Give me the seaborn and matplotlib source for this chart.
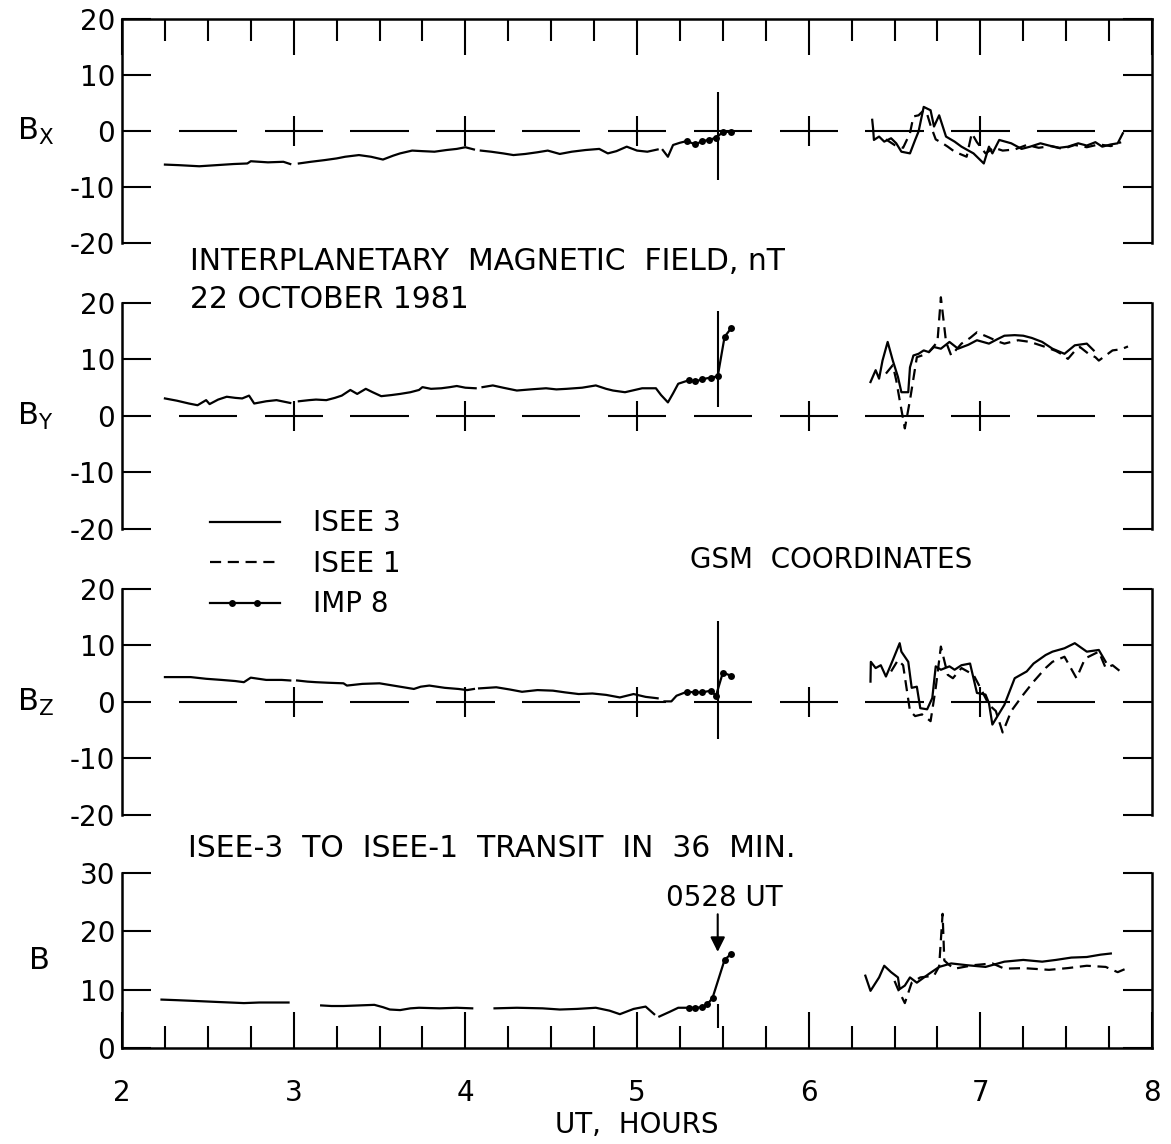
import numpy as np
import pandas as pd
import matplotlib
matplotlib.use('Agg')
import matplotlib.pyplot as plt
import seaborn as sns
from matplotlib.lines import Line2D
from matplotlib.legend_handler import HandlerLine2D, HandlerTuple
from matplotlib.ticker import MultipleLocator

nan = np.nan

# ---- data (UT hours, nT); nan marks a gap in a trace ----
# B_X
bx_isee3_t = [2.25, 2.33, 2.45, 2.55, 2.65, 2.73, 2.75, 2.85, 2.94, 2.98, nan,
              3.03, 3.10, 3.18, 3.25, 3.30, 3.38, 3.45, 3.52, 3.58, 3.62, 3.69, 3.75, 3.82, 3.89, 3.95, 4.00, 4.05, nan,
              4.09, 4.15, 4.22, 4.28, 4.35, 4.42, 4.48, 4.55, 4.62, 4.70, 4.78, 4.83, 4.88, 4.94, 5.00, 5.06, 5.12, nan,
              5.15, 5.18, 5.21, 5.25, 5.29, nan,
              6.37, 6.375, 6.38, 6.41, 6.44, 6.48, 6.51, 6.54, 6.59, 6.62, 6.64, 6.67, 6.71, 6.73, 6.76, 6.80, 6.85,
              6.89, 6.96, 7.02, 7.05, 7.07, 7.11, 7.18, 7.24, 7.29, 7.35, 7.40, 7.46, 7.51, 7.57, 7.62, 7.67, 7.71,
              7.76, 7.80, 7.83]
bx_isee3_v = [-6.0, -6.1, -6.3, -6.1, -5.9, -5.8, -5.4, -5.6, -5.5, -5.9, nan,
              -5.8, -5.5, -5.2, -4.9, -4.6, -4.3, -4.6, -5.1, -4.4, -4.0, -3.5, -3.6, -3.7, -3.4, -3.2, -2.9, -3.3, nan,
              -3.5, -3.7, -4.0, -4.3, -4.1, -3.8, -3.5, -4.1, -3.7, -3.4, -3.2, -4.0, -3.6, -2.8, -3.5, -3.7, -3.3, nan,
              -3.4, -4.6, -2.5, -2.1, -1.8, nan,
              2.0, 0.5, -1.6, -1.0, -1.9, -1.3, -2.2, -3.7, -4.0, -1.6, -0.1, 4.3, 3.7, 0.8, 2.8, -1.0, -1.9,
              -2.8, -4.0, -5.8, -2.8, -4.0, -1.6, -2.2, -3.2, -2.8, -2.2, -2.6, -3.0, -2.8, -2.2, -2.6, -2.0, -2.8,
              -2.4, -2.2, -0.4]
bx_isee1_t = [6.45, 6.50, 6.55, 6.59, 6.61, 6.64, 6.67, 6.69, 6.71, 6.74, 6.78, 6.81, 6.85, 6.92, 6.95, 6.98,
              7.03, 7.08, 7.13, 7.20, 7.27, 7.34, 7.41, 7.48, 7.55, 7.62, 7.69, 7.76, 7.82]
bx_isee1_v = [-1.5, -2.5, -3.0, -0.4, 2.6, 2.8, 3.7, 3.0, 1.0, -1.5, -2.2, -2.8, -3.7, -4.6, -0.4, -2.0,
              -4.0, -3.0, -3.5, -3.3, -2.5, -3.0, -2.7, -3.2, -2.5, -2.9, -2.4, -2.7, -2.0]
bx_imp8_t = [5.29, 5.34, 5.38, 5.42, 5.46, 5.50, 5.55]
bx_imp8_v = [-1.8, -2.4, -1.8, -1.6, -1.2, -0.2, -0.1]

# B_Y
by_isee3_t = [2.25, 2.32, 2.39, 2.44, 2.49, 2.51, 2.56, 2.61, 2.66, 2.70, 2.74, 2.77, 2.84, 2.90, 2.98, nan,
              3.03, 3.09, 3.13, 3.19, 3.24, 3.28, 3.33, 3.37, 3.42, 3.46, 3.51, 3.57, 3.62, 3.68, 3.73, 3.75, 3.80,
              3.86, 3.91, 3.95, 4.00, 4.06, nan,
              4.10, 4.16, 4.22, 4.30, 4.38, 4.47, 4.53, 4.59, 4.68, 4.76, 4.82, 4.86, 4.93, 5.03, 5.11, 5.14, 5.18,
              5.21, 5.24, 5.30, nan,
              6.36, 6.39, 6.41, 6.43, 6.46, 6.49, 6.52, 6.54, 6.58, 6.59, 6.61, 6.64, 6.67, 6.70, 6.73, 6.77, 6.82,
              6.87, 6.93, 6.98, 7.05, 7.10, 7.14, 7.20, 7.25, 7.30, 7.36, 7.42, 7.49, 7.55, 7.62, 7.66]
by_isee3_v = [3.1, 2.7, 2.2, 1.9, 2.8, 2.1, 2.9, 3.4, 3.2, 3.1, 3.6, 2.2, 2.6, 2.8, 2.3, nan,
              2.6, 2.8, 2.9, 2.8, 3.2, 3.6, 4.6, 3.9, 4.8, 4.2, 3.5, 3.7, 3.9, 4.2, 4.6, 5.1, 4.8,
              4.9, 5.1, 5.3, 5.0, 4.9, nan,
              5.1, 5.4, 5.0, 4.5, 4.7, 4.9, 4.7, 4.8, 5.0, 5.4, 4.8, 4.5, 4.2, 4.9, 4.9, 3.7, 2.4,
              4.0, 5.7, 6.3, nan,
              6.0, 8.1, 6.6, 9.8, 13.1, 9.8, 6.9, 4.2, 4.2, 8.6, 10.7, 11.0, 11.6, 11.3, 12.2, 11.9, 13.1,
              11.9, 12.6, 13.4, 12.8, 13.6, 14.2, 14.3, 14.2, 13.8, 13.1, 11.9, 11.0, 12.5, 12.8, 11.6]
by_isee1_t = [6.45, 6.49, 6.51, 6.53, 6.56, 6.59, 6.63, 6.67, 6.70, 6.75, 6.77, 6.80, 6.83, 6.89, 6.94, 6.98,
              7.05, 7.10, 7.14, 7.22, 7.29, 7.38, 7.44, 7.47, 7.51, 7.55, 7.58, 7.63, 7.67, 7.69, 7.73, 7.77,
              7.82, 7.86]
by_isee1_v = [7.5, 9.0, 6.3, 2.8, -2.2, 2.8, 10.4, 10.8, 11.3, 13.1, 21.0, 13.1, 10.7, 12.8, 13.8, 14.8,
              13.9, 13.2, 12.8, 13.4, 13.1, 12.2, 11.5, 11.0, 10.1, 11.5, 12.2, 11.0, 10.4, 9.8, 10.7, 11.6,
              11.8, 12.3]
by_imp8_t = [5.30, 5.34, 5.38, 5.43, 5.47, 5.51, 5.55]
by_imp8_v = [6.3, 6.1, 6.5, 6.8, 7.0, 14.0, 15.6]

# B_Z
bz_isee3_t = [2.25, 2.33, 2.40, 2.49, 2.58, 2.66, 2.71, 2.75, 2.84, 2.93, 2.98, nan,
              3.02, 3.08, 3.13, 3.20, 3.29, 3.31, 3.40, 3.50, 3.62, 3.70, 3.74, 3.79, 3.88, 3.96, 4.01, 4.05, nan,
              4.08, 4.18, 4.26, 4.33, 4.42, 4.51, 4.58, 4.66, 4.74, 4.82, 4.90, 4.98, 5.05, 5.12, nan,
              5.16, 5.20, 5.23, 5.29, nan,
              6.36, 6.362, 6.39, 6.42, 6.45, 6.49, 6.53, 6.54, 6.58, 6.60, 6.63, 6.65, 6.69, 6.72, 6.74, 6.77,
              6.82, 6.85, 6.89, 6.94, 6.98, 7.03, 7.05, 7.07, 7.14, 7.20, 7.27, 7.31, 7.38, 7.42, 7.49, 7.55,
              7.62, 7.69, 7.73]
bz_isee3_v = [4.4, 4.4, 4.4, 4.1, 3.9, 3.7, 3.5, 4.3, 3.9, 3.9, 3.8, nan,
              3.8, 3.6, 3.5, 3.4, 3.3, 2.9, 3.2, 3.3, 2.7, 2.3, 2.7, 2.9, 2.5, 2.3, 2.1, 2.3, nan,
              2.4, 2.6, 2.2, 1.8, 2.1, 2.0, 1.7, 1.4, 1.5, 1.25, 0.8, 1.4, 0.9, 0.65, nan,
              0.1, 0.1, 1.1, 1.8, nan,
              3.6, 7.1, 6.0, 6.5, 4.5, 7.4, 10.4, 8.9, 7.1, 2.5, 2.7, -1.1, -1.3, 0.7, 6.3, 5.7,
              6.3, 5.7, 6.5, 6.8, 1.6, 1.3, -0.2, -4.0, -0.5, 4.2, 5.4, 6.8, 8.3, 8.9, 9.5, 10.4,
              8.9, 9.2, 7.1]
bz_isee1_t = [6.48, 6.52, 6.55, 6.59, 6.62, 6.66, 6.71, 6.74, 6.77, 6.81, 6.84, 6.89, 6.96, 7.00, 7.05, 7.09,
              7.13, 7.18, 7.25, 7.31, 7.38, 7.42, 7.49, 7.56, 7.61, 7.69, 7.73, 7.77, 7.84]
bz_isee1_v = [5.4, 7.4, 6.5, -1.6, -2.5, -2.2, -3.4, 2.5, 9.8, 4.8, 4.2, 6.0, 4.8, 2.5, -0.5, -1.6,
              -5.4, -1.6, 1.3, 3.6, 6.0, 7.1, 8.0, 4.2, 7.7, 8.9, 6.0, 6.5, 4.8]
bz_imp8_t = [5.29, 5.34, 5.38, 5.43, 5.46, 5.50, 5.55]
bz_imp8_v = [1.8, 1.7, 1.7, 2.0, 1.1, 5.2, 4.6]

# |B|
b_isee3_t = [2.23, 2.32, 2.40, 2.55, 2.71, 2.80, 2.97, nan,
             3.16, 3.22, 3.29, 3.38, 3.47, 3.52, 3.56, 3.62, 3.68, 3.73, 3.85, 3.95, 4.04, nan,
             4.17, 4.30, 4.45, 4.55, 4.65, 4.76, 4.84, 4.90, 4.98, 5.05, 5.10, nan,
             5.13, 5.19, 5.24, 5.30, nan,
             6.33, 6.36, 6.41, 6.44, 6.48, 6.52, 6.53, 6.56, 6.59, 6.63, 6.70, 6.76, 6.83, 6.92, 7.03, 7.14,
             7.25, 7.36, 7.44, 7.53, 7.62, 7.70, 7.76]
b_isee3_v = [8.3, 8.2, 8.1, 7.9, 7.7, 7.8, 7.8, nan,
             7.3, 7.2, 7.2, 7.3, 7.4, 7.0, 6.6, 6.5, 6.8, 6.9, 6.8, 6.9, 6.8, nan,
             6.8, 6.9, 6.8, 6.6, 6.7, 6.9, 6.4, 5.8, 6.7, 7.1, 5.8, nan,
             5.4, 6.2, 6.9, 6.9, nan,
             12.4, 9.8, 12.1, 14.1, 13.0, 12.1, 10.1, 10.7, 12.1, 11.2, 12.7, 13.9, 14.5, 14.2, 13.9, 14.8,
             15.1, 14.8, 15.1, 15.5, 15.6, 16.0, 16.2]
b_isee1_t = [6.50, 6.52, 6.56, 6.60, 6.65, 6.73, 6.76, 6.78, 6.79, 6.82, 6.85, 6.96, 7.07, 7.14, 7.25,
             7.40, 7.51, 7.62, 7.73, 7.80, 7.84]
b_isee1_v = [11.5, 10.1, 7.7, 11.2, 12.1, 12.4, 14.0, 23.0, 15.0, 14.2, 13.6, 14.2, 14.5, 13.6, 13.7,
             13.4, 13.7, 14.1, 13.9, 13.0, 13.5]
b_imp8_t = [5.30, 5.34, 5.38, 5.41, 5.44, 5.51, 5.55]
b_imp8_v = [6.9, 6.9, 7.0, 7.5, 8.6, 15.1, 16.2]

panel_labels = [r'B$_\mathregular{X}$', r'B$_\mathregular{Y}$', r'B$_\mathregular{Z}$', 'B']
component_ticks = [-20, -10, 0, 10, 20]
magnitude_ticks = [0, 10, 20, 30]
hour_ticks = [2, 3, 4, 5, 6, 7, 8]
shock_time = 5.47          # 0528 UT
shock_spans = [(-8.7, 7.0), (1.5, 18.6), (-6.6, 14.3), (3.5, 7.5)]

FS = 20       # tick labels
FT = 21.5     # lettering
plt.rcParams['font.family'] = ['DejaVu Sans']
plt.rcParams['mathtext.default'] = 'regular'
plt.rcParams['axes.unicode_minus'] = False


def trace(t, v):
    d = pd.DataFrame({'ut': t, 'nT': v})
    d['seg'] = d['nT'].isna().cumsum()
    return d.dropna()


fig = plt.figure(figsize=(11.71, 11.44), dpi=100)
L, W = 0.1042, 0.8796
rects = [[L, 0.7876, W, 0.1958], [L, 0.5376, W, 0.1976],
         [L, 0.2876, W, 0.1976], [L, 0.0839, W, 0.1530]]
axes = [fig.add_axes(r) for r in rects]

series = [(bx_isee3_t, bx_isee3_v, bx_isee1_t, bx_isee1_v, bx_imp8_t, bx_imp8_v),
          (by_isee3_t, by_isee3_v, by_isee1_t, by_isee1_v, by_imp8_t, by_imp8_v),
          (bz_isee3_t, bz_isee3_v, bz_isee1_t, bz_isee1_v, bz_imp8_t, bz_imp8_v),
          (b_isee3_t, b_isee3_v, b_isee1_t, b_isee1_v, b_imp8_t, b_imp8_v)]

lw = 1.6
dash = (0, (5, 3))
for i, (ax, s) in enumerate(zip(axes, series)):
    t3, v3, t1, v1, t8, v8 = s
    sns.lineplot(data=trace(t3, v3), x='ut', y='nT', units='seg', estimator=None, sort=False,
                 color='black', lw=lw, ax=ax, clip_on=False)
    sns.lineplot(data=trace(t1, v1), x='ut', y='nT', units='seg', estimator=None, sort=False,
                 color='black', lw=lw, linestyle=dash, ax=ax, clip_on=False)
    sns.lineplot(data=trace(t8, v8), x='ut', y='nT', units='seg', estimator=None, sort=False,
                 color='black', lw=lw, marker='o', markersize=5, markeredgewidth=0, ax=ax, clip_on=False)

    ax.set_xlim(2, 8)
    if i < 3:
        ax.set_ylim(-20, 20)
        ax.set_yticks(component_ticks)
        # broken zero line with crosses at whole hours
        for c in np.arange(2.5, 8.0, 0.5):
            ax.hlines(0, c - 0.17, c + 0.17, color='black', lw=1.5)
        ax.vlines(hour_ticks[1:-1], -2.6, 2.6, color='black', lw=1.5)
    else:
        ax.set_ylim(0, 30)
        ax.set_yticks(magnitude_ticks)
    lo, hi = shock_spans[i]
    ax.vlines(shock_time, lo, hi, color='black', lw=1.5)

    ax.set_xlabel('')
    ax.set_ylabel(panel_labels[i], fontsize=FS + 2, rotation=0, ha='left', va='center')
    ax.yaxis.set_label_coords(-0.102 if i < 3 else -0.090, 0.5)

    ax.tick_params(axis='y', direction='in', length=21, width=1.5, left=True, right=True,
                   labelsize=FS, pad=5)
    for side in ['left', 'right', 'top', 'bottom']:
        ax.spines[side].set_linewidth(1.8)
    ax.spines['top'].set_visible(i == 0)
    ax.spines['bottom'].set_visible(i == 3)
    ax.set_facecolor('none')

    ax.xaxis.set_major_locator(MultipleLocator(1))
    ax.xaxis.set_minor_locator(MultipleLocator(0.25))
    if i == 0:
        ax.tick_params(axis='x', which='major', direction='in', length=26, width=1.5,
                       top=True, bottom=False, labeltop=False, labelbottom=False)
        ax.tick_params(axis='x', which='minor', direction='in', length=16, width=1.5,
                       top=True, bottom=False)
    elif i == 3:
        ax.set_xticks(hour_ticks)
        ax.tick_params(axis='x', which='major', direction='in', length=26, width=1.5,
                       top=False, bottom=True, labelsize=FS, pad=22)
        ax.tick_params(axis='x', which='minor', direction='in', length=16, width=1.5,
                       top=False, bottom=True)
    else:
        ax.tick_params(axis='x', which='both', top=False, bottom=False,
                       labeltop=False, labelbottom=False)

ax4 = axes[3]
ax4.set_xlabel('UT,  HOURS', fontsize=FS, labelpad=3)
ax4.text(5.51, 25.7, '0528 UT', fontsize=FS, ha='center', va='center')
ax4.annotate('', xy=(shock_time, 16.0), xytext=(shock_time, 23.4),
             arrowprops=dict(arrowstyle='-|>', color='black', lw=1.5, mutation_scale=22))

fig.text(0.1623, 0.7710, 'INTERPLANETARY  MAGNETIC  FIELD, nT', fontsize=FT, va='center')
fig.text(0.1623, 0.7378, '22 OCTOBER 1981', fontsize=FT, va='center')
fig.text(0.5890, 0.5105, 'GSM  COORDINATES', fontsize=FS, va='center')
fig.text(0.1605, 0.2587, 'ISEE-3  TO  ISEE-1  TRANSIT  IN  36  MIN.', fontsize=FT, va='center')

solid = Line2D([], [], color='black', lw=lw)
dashed = Line2D([], [], color='black', lw=lw, linestyle=dash)
imp_line = Line2D([], [], color='black', lw=lw)
imp_dots = Line2D([], [], color='black', lw=0, marker='o', markersize=5, markeredgewidth=0)
fig.legend([solid, dashed, (imp_line, imp_dots)], ['ISEE 3', 'ISEE 1', 'IMP 8'], loc='upper left',
           bbox_to_anchor=(0.170, 0.5645), frameon=False, fontsize=FS,
           handlelength=2.5, handletextpad=1.2, labelspacing=0.45, borderaxespad=0,
           handler_map={tuple: HandlerTuple(ndivide=1, pad=0),
                        imp_dots: HandlerLine2D(numpoints=2, marker_pad=0.8)})

fig.savefig('out.png', dpi=100, facecolor='white')
